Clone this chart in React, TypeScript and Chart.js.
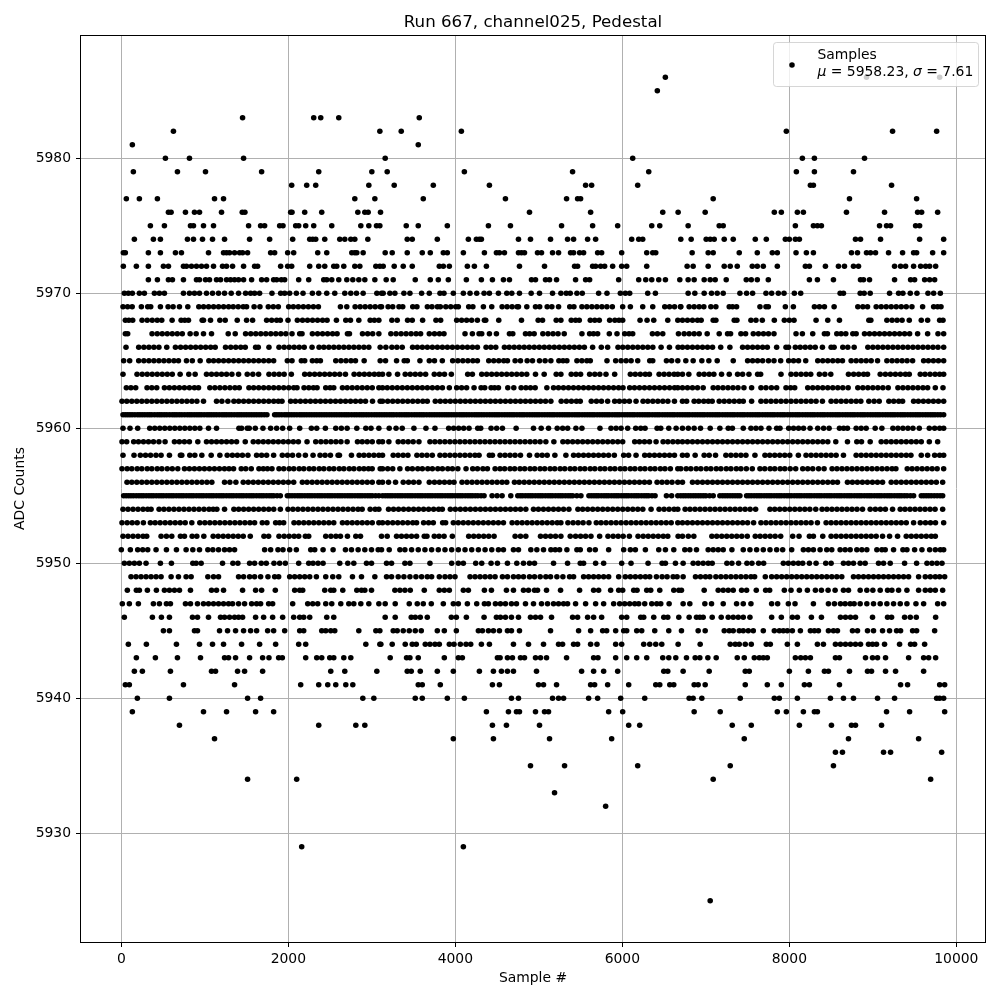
import React, { useEffect, useRef } from "react";
import { Chart, registerables } from "chart.js";

Chart.register(...registerables);

const chartTitle = "Run 667, channel025, Pedestal";
const xLabel = "Sample #";
const yLabel = "ADC Counts";
const seriesName = "Samples";
const meanText = "5958.23";
const sigmaText = "7.61";
const xTicks = [0, 2000, 4000, 6000, 8000, 10000];
const yTicks = [5930, 5940, 5950, 5960, 5970, 5980];

const adc5986 = [6515, 8924, 9800];
const adc5985 = [6419];
const adc5983 = [1452, 2304, 2388, 2604, 3568];
const adc5982 = [624, 3096, 3352, 4072, 7964, 9236, 9764];
const adc5981 = [132, 3556];
const adc5980 = [528, 816, 1464, 3160, 6124, 8156, 8300, 8900];
const adc5979 = [144, 672, 1008, 1680, 2364, 3000, 3184, 4108, 5404, 6316, 8084, 8300, 8768];
const adc5978 = [2040, 2220, 2328, 2964, 3268, 3736, 4408, 5560, 5632, 6184, 8252, 8288, 9224];
const adc5977 = [60, 216, 432, 1116, 1224, 2796, 3036, 3616, 4600, 5332, 5464, 5500, 7088, 8720, 9524];
const adc5976 = [564, 596, 768, 876, 936, 1200, 1448, 1480, 2028, 2044, 2196, 2400, 2832, 2916, 2956, 3104, 4888, 5620, 6484, 6668, 6992, 7820, 7904, 8096, 8168, 8684, 9140, 9536, 9584, 9776];
const adc5975 = [348, 516, 828, 864, 984, 1104, 1524, 1668, 1716, 1896, 1936, 2088, 2124, 2208, 2304, 2520, 2868, 2964, 3056, 3096, 3412, 3556, 3904, 4396, 4660, 5272, 5644, 5944, 6352, 6448, 6788, 7160, 7208, 8072, 8288, 8336, 8384, 9080, 9164, 9212, 9512, 9560];
const adc5974 = [156, 384, 468, 792, 864, 972, 1092, 1236, 1536, 1776, 2052, 2256, 2292, 2328, 2436, 2616, 2676, 2748, 2796, 2952, 3424, 3484, 3784, 4156, 4252, 4288, 4312, 4756, 4900, 5140, 5344, 5416, 5584, 5680, 6112, 6196, 6244, 6700, 6824, 7004, 7052, 7100, 7220, 7328, 7592, 7724, 7952, 8000, 8072, 8120, 8792, 8852, 9092, 9560, 9848];
const adc5973 = [24, 48, 324, 468, 648, 720, 1044, 1224, 1260, 1296, 1356, 1416, 1452, 1512, 1788, 1836, 1992, 2064, 2352, 2460, 2760, 2796, 2820, 2896, 3160, 3244, 3424, 3604, 3700, 3856, 3904, 4096, 4348, 4492, 4528, 4588, 4756, 4792, 4828, 4984, 5032, 5164, 5236, 5380, 5416, 5488, 5536, 5704, 5752, 5992, 6292, 6364, 6400, 6836, 7028, 7088, 7400, 7616, 7796, 7856, 8080, 8204, 8288, 8744, 8816, 8924, 8972, 9032, 9188, 9356, 9488, 9524, 9716, 9848];
const adc5972 = [24, 180, 324, 504, 564, 744, 780, 840, 900, 960, 1020, 1104, 1212, 1260, 1332, 1464, 1596, 1632, 1908, 1992, 2040, 2256, 2364, 2436, 2544, 2580, 2664, 2796, 2856, 3048, 3096, 3136, 3268, 3376, 3484, 3808, 3856, 3928, 4144, 4228, 4372, 4768, 5068, 5428, 5464, 5644, 5680, 5740, 5788, 5884, 5992, 6052, 6292, 6776, 6848, 7028, 7220, 7292, 7376, 7556, 7616, 7688, 7856, 8192, 8240, 8432, 8588, 8660, 8768, 8828, 9260, 9332, 9392, 9488, 9572, 9632, 9680, 9752];
const adc5971 = [324, 432, 564, 612, 744, 900, 936, 1008, 1056, 1140, 1188, 1260, 1308, 1356, 1404, 1464, 1560, 1680, 1740, 1824, 1860, 1916, 1956, 2124, 2244, 2424, 2460, 2520, 2604, 2700, 2772, 2844, 2916, 3036, 3172, 3256, 3520, 3700, 3796, 3916, 4132, 4312, 4444, 4576, 4648, 4912, 4960, 5080, 5128, 5212, 5440, 5560, 5608, 5956, 6196, 6280, 6352, 6436, 6516, 6688, 6788, 6860, 6980, 7052, 7112, 7244, 7484, 7544, 7616, 7748, 8240, 8336, 8528, 8852, 8888, 8960, 9260, 9452, 9500, 9620, 9680, 9740];
const adc5970 = [36, 84, 132, 216, 276, 396, 456, 516, 744, 816, 876, 936, 1020, 1092, 1164, 1236, 1316, 1404, 1488, 1548, 1596, 1656, 1804, 1908, 1956, 2016, 2096, 2176, 2288, 2364, 2460, 2556, 2676, 2748, 2816, 2896, 3060, 3116, 3136, 3216, 3276, 3384, 3456, 3596, 3688, 3816, 3864, 3976, 4096, 4176, 4256, 4344, 4408, 4516, 4616, 4676, 4768, 4908, 5008, 5164, 5264, 5328, 5376, 5456, 5520, 5716, 5816, 5976, 6036, 6088, 6304, 6396, 6788, 6868, 6980, 7068, 7136, 7208, 7408, 7488, 7560, 7720, 7788, 7868, 7936, 8060, 8136, 8608, 8648, 8848, 8896, 8968, 9200, 9308, 9360, 9448, 9528, 9660, 9728, 9808];
const adc5969 = [20, 75, 130, 240, 316, 352, 468, 560, 620, 696, 796, 928, 985, 1045, 1105, 1165, 1225, 1285, 1340, 1400, 1460, 1500, 1590, 1660, 1760, 1820, 1880, 2004, 2060, 2120, 2180, 2240, 2300, 2360, 2624, 2700, 2800, 2860, 2920, 2980, 3040, 3100, 3116, 3195, 3250, 3325, 3370, 3490, 3540, 3665, 3720, 3785, 3820, 3886, 3945, 4005, 4036, 4160, 4210, 4336, 4436, 4560, 4620, 4680, 4740, 4756, 4856, 4960, 5010, 5100, 5156, 5236, 5370, 5420, 5516, 5575, 5635, 5695, 5755, 5815, 5880, 6004, 6096, 6244, 6364, 6508, 6565, 6625, 6696, 6700, 6800, 6860, 6920, 6976, 7060, 7120, 7280, 7320, 7368, 7648, 7720, 7748, 7952, 8048, 8300, 8360, 8420, 8536, 8820, 8880, 8936, 9040, 9100, 9160, 9220, 9280, 9340, 9400, 9468, 9596, 9728, 9775, 9816];
const adc5968 = [48, 90, 136, 248, 310, 370, 430, 484, 608, 716, 760, 804, 968, 984, 1068, 1180, 1244, 1388, 1500, 1572, 1740, 1800, 1860, 1904, 1996, 2108, 2170, 2230, 2290, 2350, 2410, 2464, 2576, 2688, 2744, 2844, 2980, 3030, 3084, 3240, 3304, 3428, 3484, 3608, 3768, 3824, 4016, 4075, 4135, 4195, 4264, 4348, 4364, 4520, 4792, 4992, 5044, 5208, 5264, 5388, 5440, 5484, 5616, 5670, 5724, 5848, 5910, 5960, 6004, 6212, 6296, 6376, 6544, 6664, 6720, 6780, 6840, 6900, 6944, 7088, 7120, 7340, 7372, 7540, 7600, 7676, 7820, 7940, 8000, 8056, 8320, 8460, 8600, 8952, 8976, 9168, 9230, 9290, 9350, 9436, 9580, 9656, 9800, 9840];
const adc5967 = [48, 76, 368, 430, 490, 550, 610, 670, 730, 824, 896, 984, 1080, 1280, 1364, 1488, 1550, 1610, 1670, 1730, 1790, 1850, 1910, 1970, 2044, 2136, 2164, 2288, 2350, 2410, 2470, 2530, 2584, 2708, 2732, 2888, 2950, 3010, 3084, 3228, 3290, 3350, 3410, 3470, 3530, 3584, 3688, 3750, 3810, 3864, 4116, 4204, 4284, 4316, 4408, 4492, 4648, 4688, 4840, 4890, 4944, 5048, 5110, 5170, 5230, 5304, 5516, 5608, 5655, 5704, 5844, 5936, 6028, 6080, 6124, 6360, 6420, 6484, 6672, 6740, 6800, 6860, 6920, 7016, 7160, 7260, 7296, 7420, 7476, 7568, 7630, 7690, 7750, 7816, 8080, 8156, 8280, 8420, 8456, 8568, 8620, 8676, 8760, 8800, 8900, 8960, 9020, 9080, 9140, 9200, 9260, 9320, 9380, 9440, 9536, 9656, 9780, 9848];
const adc5966 = [56, 208, 270, 330, 390, 450, 544, 648, 710, 770, 830, 890, 950, 1010, 1070, 1124, 1248, 1310, 1370, 1430, 1484, 1608, 1640, 1768, 1888, 1950, 2010, 2070, 2130, 2190, 2284, 2368, 2425, 2485, 2545, 2605, 2665, 2725, 2785, 2845, 2905, 2964, 3100, 3168, 3240, 3300, 3364, 3488, 3545, 3605, 3665, 3725, 3785, 3845, 3905, 3965, 4025, 4085, 4145, 4205, 4264, 4368, 4425, 4484, 4588, 4645, 4705, 4765, 4825, 4885, 4945, 5005, 5065, 5125, 5185, 5245, 5305, 5365, 5425, 5485, 5545, 5644, 5748, 5824, 5948, 6005, 6065, 6125, 6185, 6245, 6305, 6365, 6464, 6564, 6668, 6720, 6780, 6840, 6900, 6960, 7020, 7080, 7178, 7288, 7440, 7500, 7560, 7620, 7680, 7736, 7848, 7960, 7990, 8072, 8130, 8190, 8250, 8310, 8396, 8500, 8536, 8640, 8700, 8776, 8940, 9000, 9060, 9120, 9180, 9240, 9300, 9360, 9420, 9480, 9540, 9600, 9660, 9720, 9780, 9848];
const adc5965 = [28, 100, 208, 270, 330, 390, 450, 510, 570, 630, 684, 780, 850, 944, 1048, 1105, 1165, 1225, 1285, 1345, 1405, 1465, 1525, 1585, 1645, 1705, 1765, 1824, 1988, 2044, 2156, 2196, 2288, 2340, 2384, 2568, 2630, 2690, 2750, 2804, 2908, 3100, 3164, 3296, 3388, 3425, 3576, 3688, 3750, 3844, 3968, 4030, 4090, 4150, 4210, 4264, 4400, 4460, 4520, 4580, 4624, 4716, 4780, 4860, 4924, 5008, 5075, 5144, 5240, 5290, 5336, 5456, 5515, 5575, 5616, 5816, 5920, 5985, 6045, 6105, 6184, 6328, 6364, 6528, 6590, 6664, 6760, 6848, 6952, 7036, 7136, 7328, 7500, 7560, 7620, 7680, 7750, 7816, 7896, 7992, 8050, 8110, 8196, 8340, 8400, 8460, 8520, 8580, 8636, 8740, 8800, 8860, 8920, 8980, 9056, 9168, 9230, 9290, 9350, 9410, 9476, 9608, 9665, 9725, 9785, 9848];
const adc5964 = [20, 188, 250, 310, 370, 430, 490, 550, 610, 704, 808, 884, 1020, 1080, 1140, 1200, 1260, 1324, 1404, 1508, 1575, 1644, 1768, 1830, 1890, 1950, 2036, 2196, 2255, 2315, 2375, 2435, 2495, 2555, 2615, 2684, 2788, 2850, 2910, 2970, 3030, 3084, 3128, 3204, 3308, 3400, 3460, 3520, 3580, 3644, 3748, 3810, 3870, 3952, 4148, 4204, 4316, 4375, 4435, 4495, 4555, 4615, 4675, 4735, 4795, 4855, 4960, 5064, 5208, 5264, 5388, 5445, 5500, 5608, 5670, 5730, 5804, 5908, 6096, 6155, 6215, 6275, 6324, 6440, 6500, 6560, 6620, 6664, 6720, 6796, 6920, 6980, 7040, 7096, 7188, 7280, 7380, 7440, 7516, 7620, 7656, 7900, 8020, 8080, 8140, 8200, 8256, 8360, 8425, 8496, 8708, 8770, 8830, 8890, 8936, 9088, 9150, 9210, 9270, 9330, 9390, 9436, 9568, 9625, 9685, 9745, 9800, 9848];
const adc5963 = [60, 115, 172, 308, 365, 424, 516, 575, 635, 695, 755, 815, 875, 924, 1060, 1120, 1180, 1240, 1300, 1360, 1412, 1528, 1585, 1645, 1705, 1765, 1825, 1885, 1945, 2005, 2065, 2104, 2188, 2245, 2300, 2344, 2448, 2500, 2544, 2648, 2705, 2765, 2825, 2885, 2945, 3005, 3084, 3128, 3185, 3245, 3305, 3365, 3425, 3485, 3545, 3605, 3665, 3725, 3785, 3845, 3928, 4016, 4075, 4135, 4224, 4308, 4352, 4428, 4470, 4516, 4628, 4700, 4788, 4845, 4900, 4956, 5096, 5176, 5235, 5295, 5355, 5415, 5475, 5535, 5595, 5655, 5715, 5775, 5835, 5895, 5955, 6008, 6088, 6145, 6205, 6265, 6325, 6385, 6445, 6505, 6565, 6625, 6664, 6720, 6780, 6840, 6900, 6968, 7088, 7145, 7205, 7265, 7325, 7385, 7456, 7548, 7660, 7720, 7785, 7848, 7960, 8015, 8064, 8220, 8280, 8340, 8400, 8460, 8520, 8580, 8640, 8704, 8820, 8880, 8940, 9000, 9060, 9120, 9184, 9300, 9360, 9420, 9480, 9540, 9600, 9656, 9748, 9840];
const adc5962 = [8, 65, 125, 185, 245, 305, 365, 425, 485, 545, 605, 665, 725, 785, 845, 905, 984, 1140, 1204, 1276, 1348, 1405, 1465, 1525, 1585, 1645, 1705, 1765, 1825, 1880, 1924, 2028, 2085, 2145, 2205, 2265, 2325, 2385, 2445, 2505, 2565, 2625, 2685, 2745, 2805, 2865, 2924, 3008, 3100, 3128, 3190, 3250, 3310, 3370, 3430, 3490, 3550, 3610, 3664, 3760, 3820, 3880, 3940, 4000, 4060, 4120, 4180, 4240, 4300, 4360, 4420, 4480, 4540, 4600, 4660, 4720, 4780, 4840, 4900, 4960, 5020, 5080, 5144, 5268, 5330, 5390, 5450, 5496, 5628, 5690, 5750, 5824, 5908, 5965, 6025, 6084, 6164, 6248, 6305, 6365, 6425, 6485, 6545, 6624, 6720, 6770, 6860, 6915, 6975, 7030, 7076, 7160, 7220, 7280, 7340, 7400, 7448, 7548, 7660, 7720, 7780, 7840, 7900, 7960, 8020, 8080, 8140, 8200, 8260, 8320, 8396, 8500, 8560, 8620, 8680, 8740, 8800, 8856, 8952, 9015, 9076, 9192, 9250, 9310, 9356, 9488, 9545, 9605, 9665, 9725, 9785, 9848];
const adc5961 = [20, 48, 75, 102, 130, 162, 195, 222, 250, 280, 310, 338, 365, 398, 430, 458, 485, 515, 545, 578, 610, 638, 665, 695, 725, 758, 790, 818, 845, 875, 905, 932, 960, 992, 1025, 1052, 1080, 1110, 1140, 1172, 1205, 1232, 1260, 1290, 1320, 1352, 1385, 1412, 1440, 1470, 1500, 1530, 1560, 1590, 1620, 1650, 1680, 1712, 1744, 1836, 1862, 1890, 1922, 1955, 1982, 2010, 2040, 2070, 2102, 2135, 2162, 2190, 2220, 2250, 2280, 2310, 2340, 2370, 2400, 2430, 2460, 2490, 2520, 2550, 2580, 2610, 2640, 2670, 2698, 2725, 2758, 2790, 2820, 2850, 2878, 2905, 2935, 2965, 2998, 3030, 3060, 3090, 3120, 3150, 3180, 3210, 3238, 3265, 3298, 3330, 3360, 3390, 3418, 3445, 3478, 3510, 3540, 3570, 3598, 3625, 3658, 3690, 3720, 3750, 3780, 3810, 3840, 3870, 3898, 3925, 3955, 3985, 4018, 4050, 4078, 4105, 4135, 4165, 4198, 4230, 4258, 4285, 4315, 4345, 4378, 4410, 4440, 4470, 4498, 4525, 4558, 4590, 4620, 4650, 4678, 4705, 4738, 4770, 4798, 4825, 4858, 4890, 4920, 4950, 4978, 5005, 5038, 5070, 5100, 5130, 5158, 5185, 5218, 5250, 5280, 5310, 5338, 5365, 5398, 5430, 5458, 5485, 5518, 5550, 5580, 5610, 5638, 5665, 5698, 5730, 5760, 5790, 5818, 5845, 5878, 5910, 5938, 5965, 5998, 6030, 6060, 6090, 6118, 6145, 6178, 6210, 6240, 6270, 6298, 6325, 6358, 6390, 6418, 6445, 6478, 6510, 6540, 6570, 6598, 6625, 6658, 6690, 6720, 6750, 6778, 6805, 6838, 6870, 6900, 6930, 6958, 6985, 7018, 7050, 7080, 7110, 7138, 7165, 7198, 7230, 7260, 7290, 7318, 7345, 7378, 7410, 7438, 7465, 7498, 7530, 7560, 7590, 7618, 7645, 7678, 7710, 7740, 7770, 7798, 7825, 7858, 7890, 7918, 7945, 7978, 8010, 8040, 8070, 8098, 8125, 8158, 8190, 8220, 8250, 8278, 8305, 8338, 8370, 8398, 8425, 8458, 8490, 8520, 8550, 8578, 8605, 8638, 8670, 8700, 8730, 8758, 8785, 8818, 8850, 8878, 8905, 8938, 8970, 9000, 9030, 9058, 9085, 9118, 9150, 9180, 9210, 9238, 9265, 9298, 9330, 9358, 9385, 9418, 9450, 9480, 9510, 9538, 9565, 9598, 9630, 9660, 9690, 9718, 9745, 9778, 9810, 9848];
const adc5960 = [20, 104, 196, 340, 400, 460, 520, 580, 640, 700, 760, 820, 880, 940, 1044, 1140, 1408, 1440, 1508, 1532, 1604, 1696, 1788, 1860, 1932, 2016, 2136, 2276, 2340, 2444, 2568, 2635, 2704, 2820, 2928, 2990, 3084, 3208, 3290, 3364, 3504, 3648, 3756, 3920, 3980, 4040, 4100, 4164, 4268, 4304, 4428, 4495, 4564, 4728, 4936, 5028, 5116, 5220, 5285, 5345, 5444, 5516, 5732, 5864, 5925, 5985, 6064, 6160, 6220, 6272, 6416, 6460, 6556, 6644, 6720, 6790, 6860, 6936, 7052, 7168, 7268, 7318, 7448, 7540, 7600, 7660, 7756, 7848, 7888, 7992, 8050, 8110, 8170, 8248, 8340, 8410, 8476, 8600, 8650, 8696, 8800, 8860, 8920, 9028, 9108, 9240, 9300, 9360, 9420, 9480, 9556, 9676, 9740, 9800, 9848];
const adc5959 = [8, 64, 148, 205, 265, 325, 385, 450, 524, 636, 695, 755, 815, 916, 1020, 1080, 1140, 1200, 1260, 1320, 1380, 1484, 1580, 1640, 1700, 1760, 1820, 1880, 1940, 2000, 2060, 2120, 2224, 2328, 2390, 2450, 2510, 2570, 2630, 2704, 2828, 2885, 2945, 3005, 3084, 3128, 3204, 3316, 3375, 3435, 3495, 3564, 3696, 3755, 3815, 3875, 3935, 3995, 4055, 4115, 4175, 4235, 4295, 4355, 4415, 4475, 4535, 4595, 4655, 4715, 4775, 4835, 4895, 4955, 5015, 5084, 5180, 5288, 5345, 5405, 5465, 5525, 5585, 5645, 5705, 5765, 5825, 5885, 5945, 6004, 6148, 6205, 6265, 6325, 6404, 6488, 6545, 6605, 6664, 6720, 6780, 6840, 6900, 6960, 7020, 7080, 7140, 7200, 7260, 7320, 7380, 7440, 7500, 7560, 7620, 7680, 7740, 7800, 7860, 7920, 7980, 8040, 8100, 8160, 8220, 8280, 8340, 8400, 8460, 8556, 8696, 8808, 8864, 8968, 9100, 9160, 9220, 9280, 9340, 9400, 9460, 9520, 9580, 9676, 9776];
const adc5958 = [20, 152, 228, 290, 350, 415, 476, 576, 708, 724, 820, 880, 964, 1076, 1180, 1268, 1330, 1390, 1450, 1516, 1620, 1680, 1740, 1824, 1928, 1990, 2050, 2124, 2204, 2296, 2380, 2440, 2504, 2596, 2612, 2756, 2848, 2905, 2965, 3025, 3084, 3128, 3256, 3315, 3375, 3432, 3540, 3600, 3660, 3724, 3816, 3875, 3935, 3995, 4055, 4115, 4175, 4235, 4284, 4408, 4444, 4536, 4595, 4655, 4715, 4780, 4888, 4980, 5040, 5100, 5192, 5324, 5416, 5475, 5535, 5595, 5655, 5715, 5775, 5835, 5904, 6016, 6075, 6164, 6268, 6325, 6385, 6445, 6505, 6565, 6624, 6720, 6776, 6872, 6980, 7040, 7116, 7240, 7300, 7360, 7420, 7480, 7588, 7708, 7765, 7825, 7885, 7945, 8005, 8108, 8200, 8260, 8320, 8380, 8440, 8500, 8560, 8648, 8800, 8860, 8920, 8980, 9040, 9100, 9160, 9220, 9280, 9340, 9400, 9456, 9580, 9656, 9740, 9800, 9848];
const adc5957 = [8, 70, 125, 190, 245, 310, 365, 430, 485, 550, 610, 676, 756, 815, 875, 935, 995, 1055, 1115, 1175, 1235, 1290, 1344, 1436, 1490, 1556, 1648, 1700, 1750, 1804, 1888, 1945, 2010, 2065, 2130, 2185, 2250, 2305, 2370, 2425, 2490, 2545, 2610, 2665, 2730, 2785, 2850, 2905, 2960, 3004, 3100, 3128, 3190, 3250, 3336, 3428, 3485, 3550, 3605, 3670, 3725, 3790, 3845, 3910, 3965, 4030, 4128, 4208, 4265, 4330, 4384, 4476, 4535, 4590, 4655, 4710, 4775, 4830, 4895, 4950, 5015, 5070, 5135, 5190, 5255, 5310, 5375, 5430, 5495, 5550, 5615, 5670, 5735, 5790, 5855, 5910, 5975, 6030, 6095, 6150, 6215, 6270, 6335, 6390, 6455, 6510, 6575, 6664, 6700, 6765, 6820, 6885, 6940, 7005, 7060, 7125, 7180, 7245, 7300, 7365, 7420, 7485, 7556, 7648, 7705, 7770, 7825, 7890, 7945, 8010, 8076, 8160, 8220, 8280, 8350, 8416, 8512, 8570, 8630, 8690, 8750, 8810, 8870, 8930, 8990, 9050, 9110, 9170, 9230, 9276, 9412, 9470, 9530, 9590, 9650, 9710, 9770, 9848];
const adc5956 = [68, 125, 185, 245, 305, 365, 425, 485, 545, 605, 665, 725, 785, 845, 905, 965, 1025, 1084, 1236, 1300, 1372, 1460, 1520, 1580, 1640, 1700, 1760, 1820, 1880, 1940, 2000, 2064, 2168, 2225, 2285, 2345, 2405, 2465, 2525, 2585, 2645, 2705, 2765, 2825, 2885, 2945, 3005, 3084, 3128, 3200, 3284, 3376, 3440, 3500, 3564, 3688, 3750, 3810, 3870, 3930, 3984, 4080, 4140, 4200, 4260, 4320, 4380, 4440, 4500, 4560, 4616, 4708, 4765, 4825, 4885, 4945, 5005, 5065, 5125, 5185, 5245, 5305, 5365, 5425, 5485, 5545, 5605, 5665, 5725, 5785, 5845, 5905, 5965, 6025, 6085, 6145, 6205, 6265, 6324, 6416, 6475, 6535, 6595, 6664, 6720, 6840, 6900, 6960, 7020, 7080, 7140, 7200, 7260, 7320, 7380, 7440, 7500, 7560, 7620, 7680, 7740, 7800, 7860, 7920, 7980, 8040, 8100, 8160, 8220, 8280, 8340, 8400, 8460, 8520, 8576, 8696, 8755, 8815, 8875, 8935, 8995, 9055, 9116, 9220, 9280, 9340, 9400, 9460, 9520, 9580, 9640, 9700, 9760, 9836];
const adc5955 = [28, 58, 88, 116, 145, 178, 210, 238, 265, 298, 330, 358, 385, 418, 450, 478, 505, 538, 570, 598, 625, 658, 690, 718, 745, 778, 810, 838, 865, 898, 930, 958, 985, 1018, 1050, 1078, 1105, 1138, 1170, 1198, 1225, 1258, 1290, 1318, 1345, 1378, 1410, 1438, 1465, 1498, 1530, 1558, 1585, 1618, 1650, 1678, 1705, 1738, 1770, 1798, 1825, 1865, 1904, 1988, 2016, 2045, 2078, 2110, 2138, 2165, 2198, 2230, 2258, 2285, 2318, 2350, 2378, 2405, 2438, 2470, 2498, 2525, 2558, 2590, 2618, 2645, 2678, 2710, 2738, 2765, 2798, 2830, 2858, 2885, 2918, 2950, 2978, 3005, 3045, 3084, 3128, 3160, 3190, 3218, 3245, 3278, 3310, 3338, 3365, 3398, 3430, 3458, 3485, 3518, 3550, 3578, 3605, 3638, 3670, 3698, 3725, 3758, 3790, 3818, 3845, 3878, 3910, 3938, 3965, 3998, 4030, 4058, 4085, 4118, 4150, 4178, 4205, 4238, 4270, 4308, 4344, 4440, 4500, 4560, 4664, 4748, 4778, 4805, 4838, 4870, 4898, 4925, 4958, 4990, 5018, 5045, 5078, 5110, 5138, 5165, 5198, 5230, 5258, 5285, 5318, 5350, 5378, 5405, 5455, 5504, 5600, 5630, 5660, 5688, 5715, 5748, 5780, 5808, 5835, 5868, 5900, 5928, 5955, 5988, 6020, 6048, 6075, 6108, 6140, 6168, 6195, 6228, 6260, 6288, 6315, 6355, 6392, 6528, 6590, 6664, 6700, 6730, 6760, 6790, 6820, 6850, 6880, 6910, 6940, 6970, 7000, 7045, 7088, 7168, 7200, 7230, 7260, 7290, 7320, 7350, 7380, 7408, 7488, 7516, 7545, 7578, 7610, 7638, 7665, 7698, 7730, 7758, 7785, 7818, 7850, 7878, 7905, 7938, 7970, 7998, 8025, 8058, 8090, 8118, 8145, 8178, 8210, 8238, 8265, 8298, 8330, 8358, 8385, 8418, 8450, 8478, 8505, 8538, 8570, 8598, 8625, 8658, 8690, 8718, 8745, 8778, 8810, 8838, 8865, 8898, 8930, 8958, 8985, 9018, 9050, 9078, 9105, 9138, 9170, 9198, 9225, 9258, 9290, 9318, 9345, 9378, 9410, 9450, 9488, 9580, 9610, 9640, 9670, 9700, 9735, 9770, 9805, 9836];
const adc5954 = [20, 80, 140, 200, 260, 315, 356, 452, 510, 570, 630, 690, 750, 810, 870, 930, 990, 1050, 1100, 1144, 1236, 1348, 1405, 1465, 1525, 1585, 1645, 1705, 1765, 1825, 1904, 1996, 2055, 2115, 2175, 2235, 2295, 2355, 2415, 2475, 2535, 2595, 2655, 2715, 2775, 2835, 2884, 2980, 3040, 3084, 3200, 3260, 3320, 3380, 3440, 3500, 3560, 3620, 3680, 3740, 3800, 3844, 3940, 4000, 4060, 4120, 4180, 4240, 4300, 4360, 4420, 4480, 4540, 4600, 4660, 4720, 4780, 4844, 4936, 4995, 5055, 5115, 5175, 5235, 5296, 5360, 5468, 5525, 5585, 5645, 5705, 5765, 5825, 5885, 5945, 6005, 6065, 6125, 6185, 6245, 6344, 6440, 6500, 6560, 6620, 6664, 6752, 6810, 6870, 6930, 6990, 7050, 7110, 7170, 7230, 7290, 7350, 7410, 7470, 7530, 7596, 7768, 7825, 7885, 7945, 8005, 8065, 8125, 8185, 8245, 8316, 8392, 8450, 8510, 8570, 8630, 8690, 8750, 8810, 8876, 8968, 9030, 9090, 9150, 9236, 9328, 9385, 9445, 9505, 9565, 9625, 9685, 9745, 9836];
const adc5953 = [8, 70, 130, 190, 264, 348, 405, 465, 525, 585, 645, 705, 765, 844, 940, 1000, 1060, 1120, 1180, 1240, 1300, 1360, 1420, 1480, 1540, 1596, 1688, 1744, 1848, 1895, 1944, 2068, 2125, 2185, 2245, 2305, 2365, 2425, 2485, 2544, 2648, 2705, 2765, 2825, 2885, 2945, 3005, 3084, 3128, 3190, 3250, 3310, 3370, 3430, 3490, 3536, 3620, 3680, 3736, 3848, 3884, 3976, 4035, 4095, 4155, 4215, 4275, 4335, 4395, 4455, 4515, 4576, 4680, 4740, 4800, 4860, 4920, 4980, 5040, 5100, 5160, 5220, 5264, 5348, 5410, 5470, 5530, 5600, 5688, 5745, 5805, 5865, 5925, 5985, 6045, 6105, 6165, 6225, 6285, 6345, 6405, 6465, 6525, 6585, 6664, 6720, 6780, 6840, 6900, 6960, 7020, 7080, 7140, 7200, 7260, 7320, 7380, 7440, 7500, 7572, 7660, 7720, 7780, 7840, 7900, 7960, 8020, 8080, 8140, 8200, 8260, 8336, 8440, 8500, 8560, 8620, 8680, 8740, 8800, 8860, 8920, 8980, 9040, 9100, 9160, 9220, 9280, 9340, 9400, 9488, 9568, 9630, 9690, 9750, 9848];
const adc5952 = [20, 80, 140, 200, 260, 304, 476, 540, 604, 708, 756, 848, 904, 988, 1100, 1160, 1220, 1280, 1340, 1400, 1460, 1544, 1708, 1764, 1888, 1950, 2010, 2070, 2124, 2204, 2244, 2448, 2510, 2570, 2624, 2708, 2808, 2864, 3116, 3184, 3296, 3355, 3415, 3475, 3536, 3628, 3660, 3748, 3805, 3865, 3964, 4160, 4220, 4280, 4340, 4400, 4464, 4716, 4780, 4844, 5020, 5080, 5140, 5200, 5264, 5376, 5440, 5500, 5560, 5624, 5728, 5828, 5890, 5950, 6010, 6084, 6188, 6250, 6310, 6370, 6430, 6490, 6544, 6668, 6720, 6790, 6856, 7072, 7130, 7190, 7250, 7310, 7370, 7430, 7496, 7592, 7650, 7710, 7770, 7830, 7896, 8040, 8116, 8240, 8288, 8400, 8500, 8560, 8620, 8680, 8740, 8800, 8860, 8920, 8980, 9040, 9116, 9200, 9296, 9400, 9460, 9520, 9580, 9640, 9700, 9748];
const adc5951 = [0, 108, 196, 256, 316, 416, 540, 660, 776, 856, 936, 1036, 1096, 1164, 1236, 1296, 1356, 1716, 1788, 1876, 1936, 2016, 2096, 2268, 2316, 2416, 2536, 2684, 2756, 2836, 2916, 2996, 3076, 3116, 3208, 3336, 3396, 3476, 3556, 3636, 3716, 3796, 3876, 3956, 4036, 4116, 4196, 4276, 4356, 4436, 4516, 4576, 4696, 4756, 4904, 4976, 5056, 5144, 5196, 5248, 5336, 5456, 5496, 5608, 5676, 5836, 6016, 6096, 6156, 6276, 6436, 6516, 6616, 6748, 6808, 6888, 7028, 7088, 7148, 7208, 7312, 7448, 7528, 7608, 7688, 7768, 7848, 7920, 8028, 8168, 8228, 8288, 8368, 8448, 8508, 8608, 8668, 8728, 8808, 8868, 8928, 9048, 9108, 9148, 9248, 9360, 9408, 9500, 9588, 9680, 9748, 9808, 9848];
const adc5950 = [36, 96, 156, 216, 296, 468, 600, 856, 896, 956, 1212, 1336, 1396, 1536, 1596, 1676, 1736, 1828, 1896, 1964, 2124, 2244, 2296, 2356, 2416, 2616, 2712, 2784, 2936, 2996, 3176, 3236, 3396, 3456, 3696, 3956, 4036, 4096, 4244, 4316, 4428, 4504, 4624, 4736, 4816, 4888, 4948, 5176, 5344, 5496, 5536, 5680, 5776, 5992, 6104, 6308, 6476, 6516, 6636, 6728, 6848, 6908, 6968, 7028, 7076, 7252, 7312, 7392, 7492, 7552, 7632, 7692, 7928, 7988, 8048, 8108, 8160, 8240, 8320, 8436, 8500, 8648, 8708, 8768, 8848, 8908, 9068, 9128, 9208, 9380, 9524, 9648, 9708, 9768, 9828];
const adc5949 = [116, 176, 236, 296, 356, 416, 476, 596, 684, 776, 836, 1036, 1104, 1164, 1404, 1464, 1536, 1596, 1668, 1756, 1836, 1884, 2016, 2076, 2136, 2196, 2256, 2336, 2448, 2532, 2604, 2768, 2876, 3036, 3176, 3236, 3316, 3384, 3456, 3528, 3596, 3664, 3716, 3808, 3876, 3936, 3996, 4176, 4236, 4296, 4356, 4416, 4476, 4564, 4624, 4696, 4756, 4816, 4888, 4948, 5016, 5084, 5140, 5216, 5288, 5368, 5416, 5536, 5596, 5656, 5716, 5776, 5836, 5956, 6036, 6096, 6156, 6216, 6276, 6328, 6408, 6476, 6536, 6608, 6656, 6728, 6876, 6936, 6996, 7048, 7120, 7180, 7240, 7300, 7360, 7420, 7480, 7540, 7584, 7712, 7788, 7848, 7908, 7968, 8028, 8088, 8148, 8208, 8268, 8328, 8388, 8448, 8508, 8568, 8628, 8768, 8828, 8888, 8948, 9008, 9068, 9128, 9188, 9248, 9308, 9368, 9428, 9548, 9628, 9688, 9748, 9800, 9860];
const adc5948 = [72, 180, 216, 312, 420, 516, 576, 636, 696, 828, 1080, 1140, 1224, 1452, 1608, 1680, 1844, 2076, 2136, 2172, 2436, 2508, 2544, 2652, 2820, 2876, 2916, 2996, 3276, 3336, 3396, 3460, 3628, 3808, 3868, 3928, 4096, 4156, 4348, 4432, 4612, 4696, 4816, 4876, 4948, 4984, 5092, 5260, 5488, 5656, 5716, 5860, 5956, 6004, 6136, 6176, 6292, 6340, 6448, 6616, 6676, 6708, 6980, 7148, 7208, 7268, 7328, 7428, 7488, 7604, 7716, 7764, 7940, 8020, 8120, 8216, 8312, 8384, 8464, 8548, 8648, 8708, 8848, 8928, 9000, 9088, 9176, 9228, 9308, 9408, 9548, 9628, 9688, 9748, 9836];
const adc5947 = [12, 96, 204, 384, 456, 540, 588, 768, 828, 912, 984, 1044, 1104, 1164, 1224, 1284, 1332, 1404, 1476, 1560, 1620, 1668, 1764, 1812, 2052, 2232, 2292, 2352, 2448, 2520, 2628, 2724, 2784, 2868, 2964, 3084, 3160, 3280, 3448, 3544, 3616, 3712, 3856, 3976, 4036, 4144, 4256, 4348, 4396, 4480, 4540, 4600, 4672, 4732, 4840, 4936, 5032, 5104, 5176, 5236, 5296, 5344, 5440, 5560, 5680, 5776, 5896, 5968, 6028, 6088, 6148, 6196, 6268, 6352, 6412, 6460, 6560, 6728, 6808, 6988, 7068, 7208, 7368, 7448, 7540, 7788, 7860, 7988, 8068, 8288, 8468, 8540, 8612, 8668, 8728, 8776, 8848, 8928, 9008, 9088, 9168, 9248, 9328, 9408, 9516, 9608, 9776, 9848];
const adc5946 = [36, 372, 480, 576, 852, 912, 1044, 1188, 1236, 1296, 1356, 1404, 1452, 1608, 1704, 1812, 1932, 2064, 2136, 2184, 2256, 2460, 2544, 3160, 3280, 3472, 3520, 3580, 3664, 3952, 4012, 4132, 4344, 4492, 4540, 4600, 4672, 4756, 4900, 4960, 5020, 5152, 5404, 5464, 5584, 5656, 5752, 5992, 6052, 6220, 6256, 6376, 6496, 6544, 6676, 6800, 6888, 6928, 6968, 7076, 7184, 7268, 7328, 7388, 7448, 7528, 7788, 7904, 8036, 8096, 8264, 8384, 8612, 8672, 8732, 8792, 8996, 9176, 9224, 9380, 9448, 9520, 9752];
const adc5945 = [504, 576, 876, 912, 1176, 1272, 1368, 1464, 1548, 1620, 1752, 1824, 1956, 2136, 2184, 2400, 2448, 2508, 2556, 2844, 3048, 3096, 3256, 3304, 3376, 3448, 3520, 3592, 3784, 3868, 4012, 4276, 4324, 4396, 4456, 4528, 4624, 4672, 4768, 5140, 5476, 5620, 5764, 5812, 5920, 6016, 6052, 6172, 6232, 6388, 6556, 6708, 6908, 6992, 7220, 7280, 7328, 7400, 7448, 7508, 7568, 7688, 7820, 7880, 7928, 7976, 8036, 8132, 8252, 8300, 8348, 8468, 8528, 8576, 8756, 8816, 8936, 9008, 9116, 9200, 9284, 9332, 9476, 9524, 9740];
const adc5944 = [84, 300, 660, 936, 1092, 1224, 1440, 1656, 1848, 2124, 2208, 2928, 3096, 3108, 3244, 3400, 3484, 3532, 3640, 3696, 3756, 3808, 3928, 3984, 4060, 4128, 4184, 4312, 4408, 4696, 4876, 5056, 5236, 5284, 5416, 5464, 5620, 5696, 5920, 5992, 6256, 6328, 6400, 6472, 6668, 6932, 7292, 7352, 7400, 7472, 7544, 7724, 7772, 7976, 8096, 8336, 8408, 8552, 8612, 8672, 8732, 8792, 8852, 8948, 8996, 9044, 9140, 9320, 9452, 9500, 9620];
const adc5943 = [180, 408, 672, 948, 1236, 1284, 1368, 1536, 1692, 1768, 1884, 1928, 2208, 2340, 2400, 2496, 2544, 2664, 2748, 3220, 3416, 3456, 3556, 3868, 4036, 4084, 4504, 4536, 4624, 4684, 4780, 4828, 4960, 5020, 5092, 5332, 5656, 5708, 5920, 6052, 6172, 6292, 6484, 6556, 6640, 6768, 6872, 6928, 7024, 7124, 7376, 7460, 7580, 7640, 7688, 7736, 8072, 8136, 8192, 8252, 8552, 8600, 8912, 8996, 9056, 9152, 9428, 9608, 9668, 9752];
const adc5942 = [156, 252, 588, 1080, 1128, 1392, 1476, 1692, 2508, 2676, 3060, 3424, 3472, 3580, 3784, 3976, 4288, 4456, 4552, 4624, 4696, 4972, 5512, 5656, 5776, 5944, 6496, 6544, 6728, 7040, 7472, 7520, 8000, 8228, 8420, 8468, 8720, 8936, 8984, 9152, 9272, 9608];
const adc5941 = [48, 96, 744, 1356, 2148, 2364, 2472, 2568, 2688, 2772, 3556, 3604, 3820, 4444, 4528, 4996, 5056, 5212, 5620, 5668, 5824, 6076, 6400, 6448, 6568, 6616, 6860, 6908, 6992, 7472, 7736, 7904, 8180, 8240, 8600, 9332, 9416, 9800, 9860];
const adc5940 = [192, 576, 1512, 1668, 2892, 3024, 3520, 3604, 3904, 4108, 4672, 4756, 5164, 5236, 5296, 5596, 5704, 5980, 6268, 6800, 6848, 6952, 7412, 7820, 7880, 8096, 8492, 8648, 8768, 9056, 9260, 9764, 9800, 9848];
const adc5939 = [132, 984, 1260, 1608, 1824, 4372, 4636, 4732, 4768, 4960, 5068, 5116, 5836, 6004, 6860, 7172, 7856, 7964, 8168, 8300, 8336, 9164, 9440, 9860];
const adc5938 = [696, 2364, 2808, 2916, 4444, 4612, 5008, 6076, 6208, 7316, 7544, 8120, 8504, 8744, 8792, 9104];
const adc5937 = [1116, 3976, 4456, 5128, 5872, 7460, 8708, 9548];
const adc5936 = [8552, 8636, 9128, 9212, 9824];
const adc5935 = [4900, 5308, 6184, 7292, 8528];
const adc5934 = [1512, 2100, 7088, 9692];
const adc5933 = [5188];
const adc5932 = [5800];
const adc5929 = [2160, 4096];
const adc5925 = [7052];

const levels = [5986, 5985, 5983, 5982, 5981, 5980, 5979, 5978, 5977, 5976, 5975, 5974, 5973, 5972, 5971, 5970, 5969, 5968, 5967, 5966, 5965, 5964, 5963, 5962, 5961, 5960, 5959, 5958, 5957, 5956, 5955, 5954, 5953, 5952, 5951, 5950, 5949, 5948, 5947, 5946, 5945, 5944, 5943, 5942, 5941, 5940, 5939, 5938, 5937, 5936, 5935, 5934, 5933, 5932, 5929, 5925];
const rows = [adc5986, adc5985, adc5983, adc5982, adc5981, adc5980, adc5979, adc5978, adc5977, adc5976, adc5975, adc5974, adc5973, adc5972, adc5971, adc5970, adc5969, adc5968, adc5967, adc5966, adc5965, adc5964, adc5963, adc5962, adc5961, adc5960, adc5959, adc5958, adc5957, adc5956, adc5955, adc5954, adc5953, adc5952, adc5951, adc5950, adc5949, adc5948, adc5947, adc5946, adc5945, adc5944, adc5943, adc5942, adc5941, adc5940, adc5939, adc5938, adc5937, adc5936, adc5935, adc5934, adc5933, adc5932, adc5929, adc5925];

const FONT = '"DejaVu Sans"';
const LABEL_PX = 13.9;

const framePlugin = {
  id: "frameAndLegend",
  afterDatasetsDraw(chart: any) {
    const { ctx, chartArea: a } = chart;
    ctx.save();
    ctx.strokeStyle = "#000";
    ctx.lineWidth = 1;
    ctx.strokeRect(80.5, 35.5, a.right - a.left + 0.0 + 0.5 + 0.5, a.bottom - a.top);

    const bx = 773.5, by = 42.5, bw = 205, bh = 44;
    ctx.beginPath();
    ctx.roundRect(bx, by, bw, bh, 3);
    ctx.fillStyle = "rgba(255,255,255,0.8)";
    ctx.fill();
    ctx.strokeStyle = "rgba(204,204,204,0.8)";
    ctx.lineWidth = 1;
    ctx.stroke();

    ctx.beginPath();
    ctx.arc(792, 65, 2.78, 0, Math.PI * 2);
    ctx.fillStyle = "#000";
    ctx.fill();

    ctx.textBaseline = "alphabetic";
    ctx.textAlign = "left";
    const regular = `${LABEL_PX}px ${FONT}`;
    const oblique = `oblique ${LABEL_PX}px ${FONT}`;
    ctx.font = regular;
    ctx.fillText(seriesName, 817.5, 59);
    const pieces: [string, string][] = [
      ["\u03bc", oblique],
      [` = ${meanText}, `, regular],
      ["\u03c3", oblique],
      [` = ${sigmaText}`, regular],
    ];
    let x = 817.5;
    for (const [text, font] of pieces) {
      ctx.font = font;
      ctx.fillText(text, x, 76);
      x += ctx.measureText(text).width;
    }
    ctx.restore();
  },
};

export default function App() {
  const ref = useRef<HTMLCanvasElement>(null);
  useEffect(() => {
    const points: { x: number; y: number }[] = [];
    levels.forEach((level, i) => rows[i].forEach((x) => points.push({ x, y: level })));
    const chart = new Chart(ref.current!, {
      type: "scatter",
      data: {
        datasets: [
          {
            label: seriesName,
            data: points,
            backgroundColor: "#000",
            borderWidth: 0,
            pointRadius: 2.78,
            pointHoverRadius: 2.78,
          },
        ],
      },
      plugins: [framePlugin],
      options: {
        animation: false,
        responsive: false,
        devicePixelRatio: 1,
        layout: { padding: { right: 15, left: 0, top: 0, bottom: 0 } },
        plugins: {
          legend: { display: false },
          tooltip: { enabled: false },
          title: {
            display: true,
            text: chartTitle,
            fullSize: false,
            color: "#000",
            font: { family: FONT, size: 16.67, weight: "normal", lineHeight: 1.2 },
            padding: { top: 13, bottom: 2 },
          },
        },
        scales: {
          x: {
            type: "linear",
            min: -483,
            max: 10343,
            afterBuildTicks: (s: any) => {
              s.ticks = xTicks.map((value) => ({ value }));
            },
            afterFit: (s: any) => {
              s.height = 58;
            },
            border: { display: false },
            grid: { color: "#b0b0b0", lineWidth: 1, tickColor: "#000", tickLength: 5, tickWidth: 1 },
            ticks: {
              color: "#000",
              font: { family: FONT, size: LABEL_PX },
              padding: 4,
              maxRotation: 0,
              autoSkip: false,
              callback: (v: any) => String(v),
            },
            title: {
              display: true,
              text: xLabel,
              color: "#000",
              font: { family: FONT, size: LABEL_PX },
              padding: { top: 0, bottom: 13 },
            },
          },
          y: {
            type: "linear",
            min: 5921.95,
            max: 5989.13,
            afterBuildTicks: (s: any) => {
              s.ticks = yTicks.map((value) => ({ value }));
            },
            afterFit: (s: any) => {
              s.width = 81;
            },
            border: { display: false },
            grid: { color: "#b0b0b0", lineWidth: 1, tickColor: "#000", tickLength: 5, tickWidth: 1 },
            ticks: {
              color: "#000",
              font: { family: FONT, size: LABEL_PX },
              padding: 5,
              autoSkip: false,
              callback: (v: any) => String(v),
            },
            title: {
              display: true,
              text: yLabel,
              color: "#000",
              font: { family: FONT, size: LABEL_PX },
              padding: { top: 12, bottom: 0 },
            },
          },
        },
      },
    } as any);
    return () => chart.destroy();
  }, []);
  return (
    <div style={{ position: "absolute", left: 0, top: 0, width: 1000, height: 1000 }}>
      <canvas ref={ref} width={1000} height={1000} style={{ display: "block", width: 1000, height: 1000 }} />
    </div>
  );
}
